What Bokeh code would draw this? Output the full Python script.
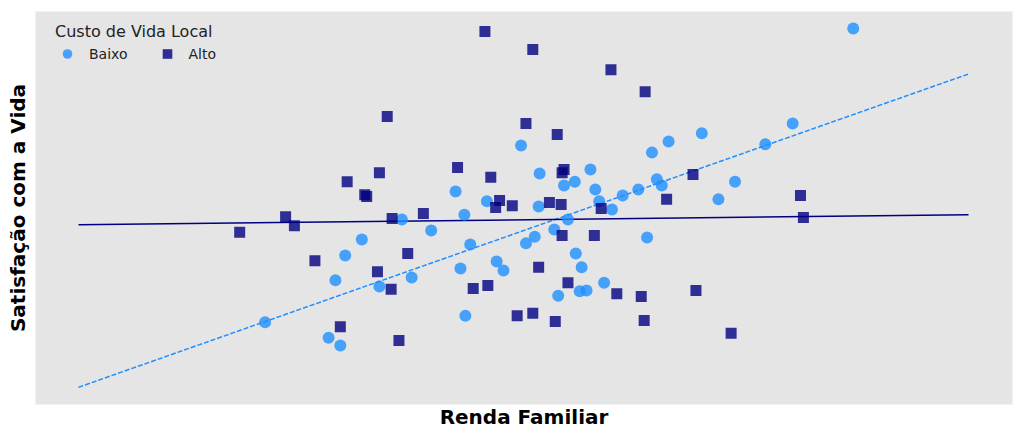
import numpy as np
from bokeh.plotting import figure
from bokeh.models import Range1d, Legend, LegendItem, FixedTicker
from bokeh.embed import file_html
from bokeh.resources import INLINE

# ---- data (arbitrary units: income 0-100, satisfaction 0-10) ----
baixo_renda = [23.5, 30.0, 31.2, 30.7, 31.7, 33.4, 35.2, 37.5, 38.5, 40.5,
               43.0, 43.5, 43.9, 44.0, 44.5, 46.2, 47.2, 47.9, 49.7, 50.2,
               51.1, 51.5, 51.6, 53.1, 53.5, 54.1, 54.5, 55.2, 55.3, 55.7,
               55.9, 56.4, 56.8, 57.3, 57.7, 58.2, 59.0, 60.1, 61.7, 62.6,
               63.1, 63.6, 64.1, 64.8, 68.2, 69.9, 71.6, 74.7, 77.5, 83.7]
baixo_satisf = [2.09, 1.70, 1.50, 3.16, 3.79, 4.20, 3.00, 4.71, 3.23, 4.43,
                5.42, 3.46, 4.83, 2.26, 4.07, 5.17, 3.64, 3.41, 6.59, 4.10,
                4.27, 5.04, 5.88, 4.45, 2.77, 5.57, 4.71, 5.67, 3.84, 2.88,
                3.49, 2.90, 5.98, 5.47, 5.17, 3.10, 4.96, 5.32, 5.47, 4.25,
                6.41, 5.73, 5.57, 6.69, 6.90, 5.22, 5.67, 6.62, 7.15, 9.57]

alto_renda = [20.9, 25.6, 26.5, 28.6, 31.2, 31.9, 33.7, 33.9, 35.0, 35.2,
              36.0, 36.4, 36.5, 37.2, 38.1, 39.7, 43.2, 44.8, 46.0, 46.3,
              46.6, 47.1, 47.5, 48.8, 49.3, 50.2, 50.9, 50.9, 51.5, 52.6,
              53.2, 53.4, 53.8, 53.9, 54.1, 53.9, 54.5, 57.2, 57.9, 58.9,
              59.5, 62.0, 62.3, 62.4, 64.6, 67.3, 67.6, 71.2, 78.3, 78.6]
alto_satisf = [4.38, 4.78, 4.55, 3.66, 1.98, 5.67, 5.34, 5.29, 3.38, 5.90,
               7.33, 2.93, 4.73, 1.63, 3.84, 4.86, 6.03, 2.95, 9.49, 3.03,
               5.78, 5.01, 5.19, 5.06, 2.26, 7.15, 9.03, 2.32, 3.49, 5.14,
               2.11, 6.87, 5.09, 5.90, 5.98, 4.30, 3.10, 4.30, 4.99, 8.52,
               2.82, 2.75, 2.14, 7.96, 5.22, 5.85, 2.90, 1.81, 5.32, 4.76]

trend_x = [4.4, 95.5]

# ---- figure ----
p = figure(width=1016, height=431, output_backend="svg", toolbar_location=None,
           x_range=Range1d(0, 100), y_range=Range1d(0, 10),
           min_border_left=35, min_border_top=11, min_border_right=4,
           min_border_bottom=27)
p.background_fill_color = "#e5e5e5"
p.border_fill_color = "white"
p.outline_line_color = None
p.grid.grid_line_color = None

for ax in (p.xaxis[0], p.yaxis[0]):
    ax.ticker = FixedTicker(ticks=[])
    ax.axis_line_color = None
    ax.major_tick_line_color = None
    ax.minor_tick_line_color = None
    ax.major_label_text_font_size = "0px"
    ax.major_label_standoff = 0
    ax.major_tick_out = 0
    ax.major_tick_in = 0
    ax.axis_label_text_font = "DejaVu Sans"
    ax.axis_label_text_font_style = "bold"
    ax.axis_label_text_font_size = "20px"
    ax.axis_label_text_color = "black"

p.xaxis.axis_label_standoff = 0
p.yaxis.axis_label_standoff = 6
p.xaxis.axis_label = "Renda Familiar"
p.yaxis.axis_label = "Satisfação com a Vida"

# trend lines (least squares fit per group)
tx = np.array(trend_x)
kb = np.polyfit(baixo_renda, baixo_satisf, 1)
ka = np.polyfit(alto_renda, alto_satisf, 1)
p.line(tx, np.polyval(kb, tx), line_color="dodgerblue", line_width=1.5,
       line_dash="5 2")
p.line(tx, np.polyval(ka, tx), line_color="navy", line_width=1.5)

r_b = p.scatter(baixo_renda, baixo_satisf, marker="circle", size=12,
                fill_color="dodgerblue", line_color=None, fill_alpha=0.8)
r_a = p.scatter(alto_renda, alto_satisf, marker="square", size=11,
                fill_color="navy", line_color=None, fill_alpha=0.8)

legend = Legend(items=[LegendItem(label="Baixo", renderers=[r_b]),
                       LegendItem(label="Alto", renderers=[r_a])],
                title="Custo de Vida Local", orientation="horizontal",
                location=(20, 338))
legend.margin = 0
legend.padding = 10
legend.background_fill_alpha = 0
legend.border_line_color = None
legend.title_text_font = "DejaVu Sans"
legend.title_text_font_size = "16px"
legend.title_text_font_style = "normal"
legend.title_text_color = "#222222"
legend.label_text_font = "DejaVu Sans"
legend.label_text_font_size = "14px"
legend.label_text_color = "#222222"
legend.glyph_width = 24
legend.glyph_height = 25
legend.label_standoff = 10
legend.spacing = 27
legend.title_standoff = 0
p.add_layout(legend)

open("out.html", "w").write(file_html(p, INLINE))
